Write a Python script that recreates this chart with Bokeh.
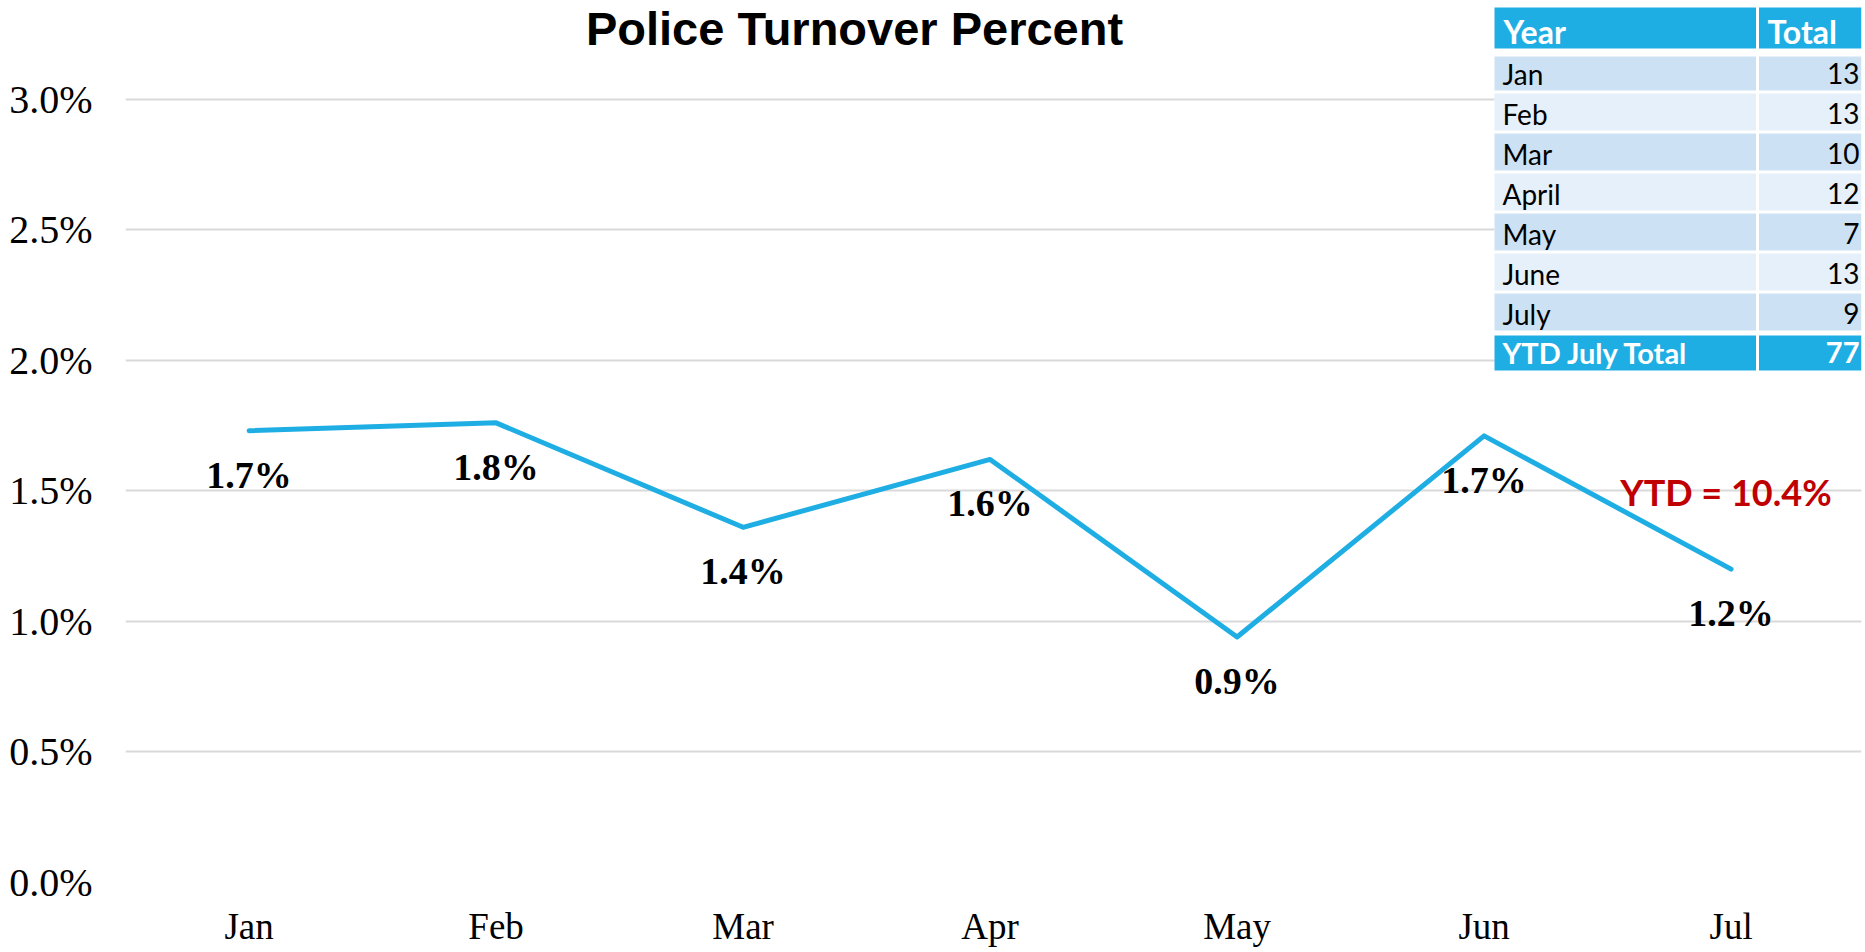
from bokeh.plotting import figure
from bokeh.models import Range1d, FixedTicker, PrintfTickFormatter, Label
from bokeh.core.properties import value
from bokeh.embed import file_html
from bokeh.resources import INLINE

# ---------------- data ----------------
months = ["Jan", "Feb", "Mar", "Apr", "May", "Jun", "Jul"]
turnover_pct = [1.73, 1.76, 1.36, 1.62, 0.94, 1.71, 1.20]   # percent
y_ticks = [0.0, 0.5, 1.0, 1.5, 2.0, 2.5, 3.0]

table_months = ["Jan", "Feb", "Mar", "April", "May", "June", "July"]
table_totals = [13, 13, 10, 12, 7, 13, 9]
table_header = ["Year", "Total"]
ytd_row_label = "YTD July Total"
ytd_total = 77
ytd_pct = 10.4
title = "Police Turnover Percent"

# ---------------- layout constants ----------------
W, H = 1865, 952
FL, FR, FT, FB = 125, 1861, 0, 882          # frame edges (canvas px)
Y3 = 98.5                                    # canvas y of top gridline (3.0%)
X0, STEP = 248.6, 247.0                      # canvas x of first category, spacing
ymax = 3.0 * (FB - FT) / (FB - Y3)
xmin = -(X0 - FL) / STEP
xmax = (FR - X0) / STEP

LINE_BLUE = "#1FAEE3"
ROW_DARK = "#CCE2F4"
ROW_LIGHT = "#E6F0FA"

p = figure(width=W, height=H, output_backend="svg", toolbar_location=None,
           x_range=Range1d(xmin, xmax), y_range=Range1d(0, ymax),
           min_border_left=FL, min_border_right=W - FR,
           min_border_top=FT, min_border_bottom=H - FB)
p.outline_line_color = None
p.background_fill_color = "white"
p.border_fill_color = "white"

# pixel-space ranges for the table / annotations
p.extra_x_ranges = {"px": Range1d(FL, FR)}
p.extra_y_ranges = {"px": Range1d(FB, FT)}

# axes
yt = FixedTicker(ticks=y_ticks)
p.yaxis.ticker = yt
p.ygrid.ticker = yt
p.yaxis.formatter = PrintfTickFormatter(format="%.1f%%")
p.yaxis.axis_line_color = None
p.yaxis.major_tick_line_color = None
p.yaxis.minor_tick_line_color = None
p.yaxis.major_label_standoff = 27
p.yaxis.major_label_text_font = "Liberation Serif"
p.yaxis.major_label_text_font_size = "40px"
p.yaxis.major_label_text_color = "black"

p.xaxis.ticker = FixedTicker(ticks=list(range(len(months))))
p.xaxis.major_label_overrides = {i: m for i, m in enumerate(months)}
p.xaxis.axis_line_color = None
p.xaxis.major_tick_line_color = None
p.xaxis.minor_tick_line_color = None
p.xaxis.major_label_standoff = 17
p.xaxis.major_label_text_font = "Liberation Serif"
p.xaxis.major_label_text_font_size = "37px"
p.xaxis.major_label_text_color = "black"

p.xgrid.visible = False
p.ygrid.grid_line_color = "#D9D9D9"
p.ygrid.grid_line_width = 2

# line
xs = list(range(len(months)))
p.line(xs, turnover_pct, line_color=LINE_BLUE, line_width=5,
       line_join="round", line_cap="round")

# data labels
p.text(xs, turnover_pct, text=[f"{v:.1f}%" for v in turnover_pct],
       y_offset=44, text_align="center", text_baseline="middle",
       text_font=value("Liberation Serif"), text_font_style="bold",
       text_font_size="38px", text_color="black")

# title
p.add_layout(Label(x=854, y=28, text=title, x_range_name="px", y_range_name="px",
                   text_align="center", text_baseline="middle",
                   text_font="Liberation Sans", text_font_style="bold", text_font_size="47px",
                   text_color="black"))

# YTD annotation
p.text([1725.5], [491], text=[f"YTD = {ytd_pct}%"], x_range_name="px", y_range_name="px",
       text_align="center", text_baseline="middle",
       text_font=value("Lato"), text_font_style="bold", text_font_size="36px",
       text_color="#C00000")

# ---------------- table ----------------
TL, TM1, TM2, TR = 1494, 1755.5, 1758.5, 1861
p.quad(left=[TL], right=[TR], top=[6], bottom=[371], x_range_name="px", y_range_name="px",
       fill_color="white", line_color=None)

# header
p.quad(left=[TL, TM2], right=[TM1, TR], top=[7, 7], bottom=[48, 48],
       x_range_name="px", y_range_name="px", fill_color=LINE_BLUE, line_color=None)

n = len(table_months)
tops = [(56 if k == 0 else 53 + 40 * k) for k in range(n)]
bots = [90 + 40 * k for k in range(n)]
cols = [ROW_DARK if k % 2 == 0 else ROW_LIGHT for k in range(n)]
p.quad(left=[TL] * n, right=[TM1] * n, top=tops, bottom=bots, fill_color=cols,
       line_color=None, x_range_name="px", y_range_name="px")
p.quad(left=[TM2] * n, right=[TR] * n, top=tops, bottom=bots, fill_color=cols,
       line_color=None, x_range_name="px", y_range_name="px")

# total row
p.quad(left=[TL, TM2], right=[TM1, TR], top=[335, 335], bottom=[370, 370],
       x_range_name="px", y_range_name="px", fill_color=LINE_BLUE, line_color=None)

# table texts (drawn after all cells)
p.text([1503, 1767], [31, 31], text=table_header, x_range_name="px", y_range_name="px",
       text_align="left", text_baseline="middle", text_font=value("Lato"),
       text_font_style="bold", text_font_size="32px", text_color="white")
ym = [73 + 40 * k for k in range(n)]
p.text([1502] * n, ym, text=table_months, x_range_name="px", y_range_name="px",
       text_align="left", text_baseline="middle", text_font=value("Lato"),
       text_font_size="28px", text_color="black")
p.text([1859] * n, ym, text=[str(v) for v in table_totals], x_range_name="px", y_range_name="px",
       text_align="right", text_baseline="middle", text_font=value("Lato"),
       text_font_size="28px", text_color="black")
p.text([1502], [352], text=[ytd_row_label], x_range_name="px", y_range_name="px",
       text_align="left", text_baseline="middle", text_font=value("Lato"),
       text_font_style="bold", text_font_size="29px", text_color="white")
p.text([1859], [352], text=[str(ytd_total)], x_range_name="px", y_range_name="px",
       text_align="right", text_baseline="middle", text_font=value("Lato"),
       text_font_style="bold", text_font_size="29px", text_color="white")

open("out.html", "w").write(file_html(p, INLINE))
